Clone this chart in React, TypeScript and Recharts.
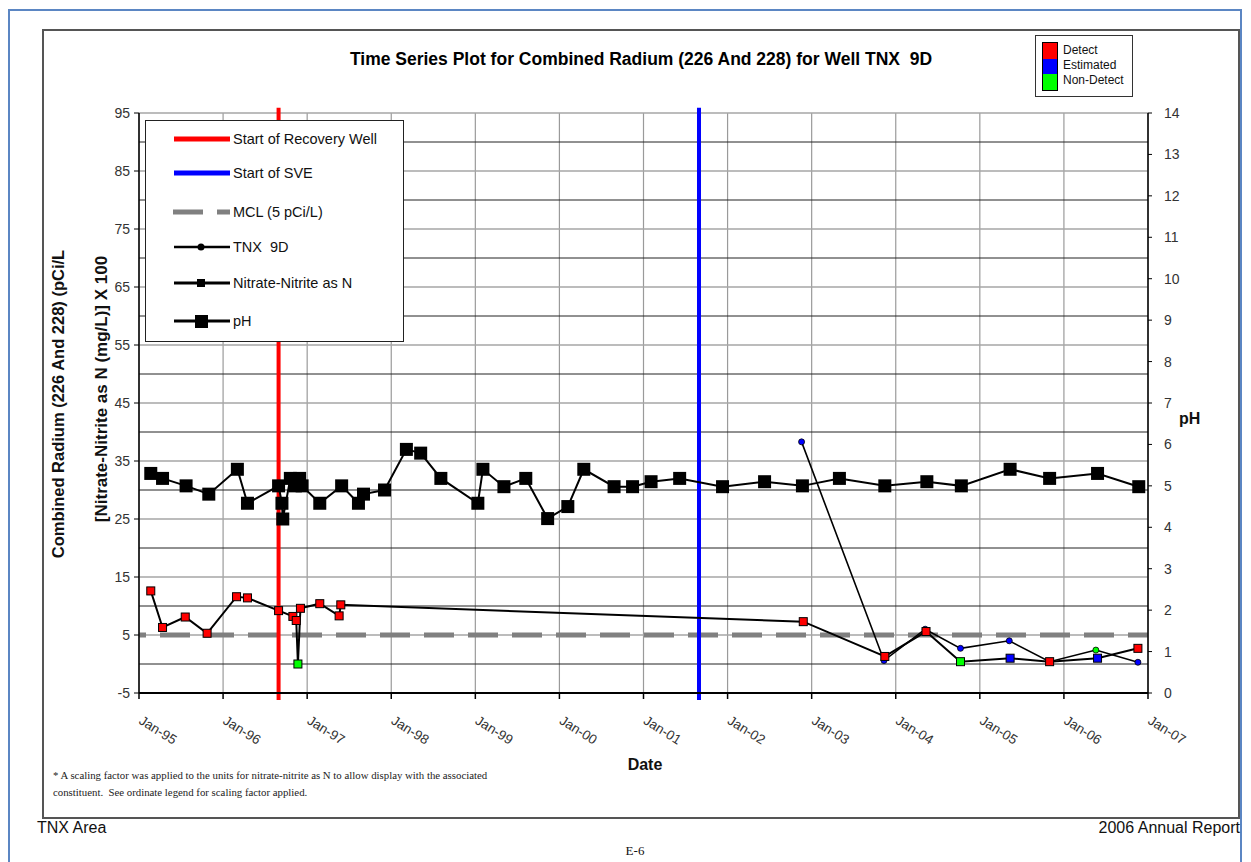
import React from 'react';
import { ComposedChart, Line, XAxis, YAxis, ReferenceLine } from 'recharts';

// ---- ticks ----
const yearTicks = [1995, 1996, 1997, 1998, 1999, 2000, 2001, 2002, 2003, 2004, 2005, 2006, 2007];
const yearLabels = ['Jan-95', 'Jan-96', 'Jan-97', 'Jan-98', 'Jan-99', 'Jan-00', 'Jan-01', 'Jan-02', 'Jan-03', 'Jan-04', 'Jan-05', 'Jan-06', 'Jan-07'];
const leftTicks = [-5, 5, 15, 25, 35, 45, 55, 65, 75, 85, 95];
const minorLines = [0, 10, 20, 30, 40, 50, 60, 70, 80, 90];
const rightTicks = [0, 1, 2, 3, 4, 5, 6, 7, 8, 9, 10, 11, 12, 13, 14];

// ---- events ----
const recoveryWellStart = 1996.66;
const sveStart = 2001.66;
const mcl = 5;

// ---- pH (right axis) ----
const phDates = [1995.14, 1995.28, 1995.56, 1995.83, 1996.17, 1996.29, 1996.66, 1996.70, 1996.71, 1996.80, 1996.86, 1996.91, 1996.94, 1997.15, 1997.41, 1997.61, 1997.67, 1997.92, 1998.18, 1998.35, 1998.59, 1999.03, 1999.09, 1999.34, 1999.60, 1999.86, 2000.10, 2000.29, 2000.65, 2000.87, 2001.09, 2001.43, 2001.94, 2002.44, 2002.89, 2003.33, 2003.87, 2004.37, 2004.78, 2005.36, 2005.83, 2006.40, 2006.89];
const phValues = [5.30, 5.18, 5.00, 4.80, 5.40, 4.58, 5.00, 4.58, 4.20, 5.18, 5.00, 5.18, 5.00, 4.58, 5.00, 4.58, 4.80, 4.90, 5.88, 5.79, 5.18, 4.58, 5.40, 4.98, 5.18, 4.21, 4.50, 5.40, 4.98, 4.98, 5.10, 5.18, 4.98, 5.10, 5.00, 5.18, 5.00, 5.10, 5.00, 5.40, 5.18, 5.30, 4.98];

// ---- Nitrate-Nitrite as N x100 (left axis) ----
const nitrateDates = [1995.14, 1995.28, 1995.55, 1995.81, 1996.16, 1996.29, 1996.66, 1996.83, 1996.87, 1996.89, 1996.92, 1997.15, 1997.38, 1997.40, 2002.90, 2003.87, 2004.36, 2004.77, 2005.36, 2005.83, 2006.40, 2006.88];
const nitrateValues = [12.6, 6.3, 8.1, 5.3, 11.6, 11.4, 9.2, 8.2, 7.5, 0.0, 9.6, 10.4, 8.3, 10.2, 7.3, 1.3, 5.6, 0.4, 1.0, 0.4, 1.0, 2.7];
const nitrateStatus = ['D', 'D', 'D', 'D', 'D', 'D', 'D', 'D', 'D', 'N', 'D', 'D', 'D', 'D', 'D', 'D', 'D', 'N', 'E', 'D', 'E', 'D'];

// ---- TNX 9D combined radium (left axis) ----
const radiumDates = [2002.88, 2003.86, 2004.35, 2004.77, 2005.35, 2005.83, 2006.38, 2006.88];
const radiumValues = [38.3, 0.6, 6.0, 2.7, 4.0, 0.4, 2.4, 0.3];
const radiumStatus = ['E', 'E', 'E', 'E', 'E', 'E', 'N', 'E'];

const phData = phDates.map((t, i) => ({ t, v: phValues[i] }));
const nitrateData = nitrateDates.map((t, i) => ({ t, v: nitrateValues[i], s: nitrateStatus[i] }));
const radiumData = radiumDates.map((t, i) => ({ t, v: radiumValues[i], s: radiumStatus[i] }));

const statusColor: Record<string, string> = { D: '#ff0000', E: '#0000ff', N: '#00ff00' };
const SANS = '"Liberation Sans", Arial, sans-serif';
const SERIF = '"Liberation Serif", "Times New Roman", serif';

const PhDot = (props: any) => {
  const { cx, cy, index } = props;
  if (cx == null || cy == null) return <g key={`p${index}`} />;
  return <rect key={`p${index}`} x={cx - 6.5} y={cy - 6.5} width={13} height={13} fill="#000" />;
};
const NitrateDot = (props: any) => {
  const { cx, cy, payload, index } = props;
  if (cx == null || cy == null) return <g key={`n${index}`} />;
  return <rect key={`n${index}`} x={cx - 4} y={cy - 4} width={8} height={8} fill={statusColor[payload.s]} stroke="#000" strokeWidth={1} />;
};
const RadiumDot = (props: any) => {
  const { cx, cy, payload, index } = props;
  if (cx == null || cy == null) return <g key={`r${index}`} />;
  return <circle key={`r${index}`} cx={cx} cy={cy} r={3} fill={statusColor[payload.s]} stroke="#000" strokeWidth={0.8} />;
};

const XTick = (props: any) => {
  const { x, y, payload } = props;
  const idx = yearTicks.indexOf(payload.value);
  const tx = x - 1;
  const ty = y + 22;
  return (
    <text x={tx} y={ty} transform={`rotate(32 ${tx} ${ty})`} fontSize={13.5} fill="#333" fontFamily={SANS} textAnchor="start">
      {idx >= 0 ? yearLabels[idx] : ''}
    </text>
  );
};

const abs = (s: React.CSSProperties): React.CSSProperties => ({ position: 'absolute', ...s });

export default function App() {
  return (
    <div style={abs({ left: 0, top: 0, width: 1251, height: 862, background: '#fff', overflow: 'hidden', fontFamily: SANS })}>
      {/* page frame */}
      <div style={abs({ left: 8, top: 9, width: 1234, height: 900, border: '2px solid #5b86c3', boxSizing: 'border-box' })} />
      <div style={abs({ left: 42, top: 29, width: 1198, height: 790, border: '2px solid #555', boxSizing: 'border-box' })} />

      <div style={abs({ left: 0, top: 0 })}>
        <ComposedChart width={1251} height={862} margin={{ top: 113, right: 0, bottom: 109, left: 0 }}>
          <XAxis
            dataKey="t"
            type="number"
            domain={[1995, 2007]}
            ticks={yearTicks}
            interval={0}
            allowDataOverflow
            height={60}
            tick={<XTick />}
            tickSize={6}
            tickMargin={2}
            axisLine={{ stroke: '#000', strokeWidth: 2 }}
            tickLine={{ stroke: '#000', strokeWidth: 1.5 }}
          />
          <YAxis
            yAxisId="left"
            orientation="left"
            type="number"
            domain={[-5, 95]}
            ticks={leftTicks}
            interval={0}
            allowDataOverflow
            width={139}
            tickSize={5}
            tickMargin={4}
            tick={{ fontSize: 14, fill: '#333', fontFamily: SANS }}
            axisLine={{ stroke: '#000', strokeWidth: 1.5 }}
            tickLine={{ stroke: '#000', strokeWidth: 1 }}
          />
          <YAxis
            yAxisId="right"
            orientation="right"
            type="number"
            domain={[0, 14]}
            ticks={rightTicks}
            interval={0}
            allowDataOverflow
            width={103}
            tickSize={4}
            tickMargin={12}
            tick={{ fontSize: 14, fill: '#333', fontFamily: SANS, textAnchor: 'start' }}
            axisLine={{ stroke: '#000', strokeWidth: 1.5 }}
            tickLine={{ stroke: '#000', strokeWidth: 1 }}
          />

          {yearTicks.map((yr) => (
            <ReferenceLine key={`vx${yr}`} yAxisId="left" x={yr} stroke="#9a9a9a" strokeWidth={1.2} />
          ))}
          {leftTicks.map((v) => (
            <ReferenceLine key={`gy${v}`} yAxisId="left" y={v} stroke="#a6a6a6" strokeWidth={1.6} />
          ))}
          {minorLines.map((v) => (
            <ReferenceLine key={`by${v}`} yAxisId="left" y={v} stroke="#222" strokeWidth={1} />
          ))}

          <ReferenceLine yAxisId="left" y={mcl} stroke="#808080" strokeWidth={5} strokeDasharray="30 14" strokeDashoffset={23} />
          <ReferenceLine
            yAxisId="left"
            segment={[{ x: recoveryWellStart, y: 95.9 }, { x: recoveryWellStart, y: -6.2 }]}
            ifOverflow="visible"
            stroke="#ff0000"
            strokeWidth={4}
          />
          <ReferenceLine
            yAxisId="left"
            segment={[{ x: sveStart, y: 95.9 }, { x: sveStart, y: -6.2 }]}
            ifOverflow="visible"
            stroke="#0000ff"
            strokeWidth={4}
          />

          <Line
            yAxisId="right"
            data={phData}
            dataKey="v"
            type="linear"
            stroke="#000"
            strokeWidth={2}
            dot={PhDot}
            activeDot={false}
            isAnimationActive={false}
            legendType="none"
          />
          <Line
            yAxisId="left"
            data={radiumData}
            dataKey="v"
            type="linear"
            stroke="#000"
            strokeWidth={1.6}
            dot={RadiumDot}
            activeDot={false}
            isAnimationActive={false}
          />
          <Line
            yAxisId="left"
            data={nitrateData}
            dataKey="v"
            type="linear"
            stroke="#000"
            strokeWidth={2}
            dot={NitrateDot}
            activeDot={false}
            isAnimationActive={false}
          />
        </ComposedChart>
      </div>

      {/* title */}
      <div style={abs({ left: 241, width: 800, top: 49, textAlign: 'center', fontWeight: 'bold', fontSize: 17.5, whiteSpace: 'pre', color: '#000' })}>
        {'Time Series Plot for Combined Radium (226 And 228) for Well TNX  9D'}
      </div>

      {/* detect legend */}
      <div style={abs({ left: 1035, top: 35, width: 98, height: 62, border: '1px solid #333', boxSizing: 'border-box', background: '#fff' })}>
        <div style={abs({ left: 6, top: 6, width: 16, height: 49, border: '1px solid #000', boxSizing: 'border-box' })}>
          <div style={{ height: 15.7, background: '#ff0000' }} />
          <div style={{ height: 15.7, background: '#0000ff' }} />
          <div style={{ height: 15.6, background: '#00ff00' }} />
        </div>
        {['Detect', 'Estimated', 'Non-Detect'].map((t, i) => (
          <div key={t} style={abs({ left: 27, top: 7 + i * 15, fontSize: 12, lineHeight: '14px', color: '#111' })}>{t}</div>
        ))}
      </div>

      {/* series legend */}
      <div style={abs({ left: 145, top: 120, width: 259, height: 222, border: '1.5px solid #222', boxSizing: 'border-box', background: '#fff' })}>
        <svg width={259} height={222} style={abs({ left: -1.5, top: -1.5 })}>
          <line x1={29} y1={19} x2={85} y2={19} stroke="#ff0000" strokeWidth={5} />
          <line x1={29} y1={53} x2={85} y2={53} stroke="#0000ff" strokeWidth={5} />
          <line x1={28} y1={92} x2={85} y2={92} stroke="#808080" strokeWidth={5} strokeDasharray="30 14" />
          <line x1={29} y1={127} x2={85} y2={127} stroke="#000" strokeWidth={2.5} />
          <circle cx={56} cy={127} r={3.5} fill="#000" />
          <line x1={29} y1={163} x2={85} y2={163} stroke="#000" strokeWidth={3} />
          <rect x={52} y={159} width={8} height={8} fill="#000" />
          <line x1={29} y1={201} x2={85} y2={201} stroke="#000" strokeWidth={3} />
          <rect x={50} y={195} width={13} height={13} fill="#000" />
          {['Start of Recovery Well', 'Start of SVE', 'MCL (5 pCi/L)', 'TNX  9D', 'Nitrate-Nitrite as N', 'pH'].map((t, i) => (
            <text key={t} x={88} y={[19, 53, 92, 127, 163, 201][i] + 5} fontSize={14.5} fill="#111" fontFamily={SANS} style={{ whiteSpace: 'pre' }}>{t}</text>
          ))}
        </svg>
      </div>

      {/* axis titles */}
      <div style={abs({ left: 58, top: 404, width: 0, height: 0 })}>
        <div style={{ position: 'absolute', transform: 'translate(-50%,-50%) rotate(-90deg)', whiteSpace: 'pre', fontWeight: 'bold', fontSize: 16.5, color: '#111' }}>
          Combined Radium (226 And 228) (pCi/L
        </div>
      </div>
      <div style={abs({ left: 102, top: 389, width: 0, height: 0 })}>
        <div style={{ position: 'absolute', transform: 'translate(-50%,-50%) rotate(-90deg)', whiteSpace: 'pre', fontWeight: 'bold', fontSize: 17, color: '#111' }}>
          [Nitrate-Nitrite as N (mg/L)] X 100
        </div>
      </div>
      <div style={abs({ left: 1179, top: 410, fontWeight: 'bold', fontSize: 16, color: '#111' })}>pH</div>
      <div style={abs({ left: 545, width: 200, top: 756, textAlign: 'center', fontWeight: 'bold', fontSize: 16, color: '#111' })}>Date</div>

      {/* footnote */}
      <div style={abs({ left: 53, top: 767, fontFamily: SERIF, fontSize: 10.8, lineHeight: '17px', color: '#222' })}>
        <div>* A scaling factor was applied to the units for nitrate-nitrite as N to allow display with the associated</div>
        <div>constituent.&nbsp; See ordinate legend for scaling factor applied.</div>
      </div>

      {/* page footer */}
      <div style={abs({ left: 37, top: 819, fontSize: 16, color: '#111' })}>TNX Area</div>
      <div style={abs({ right: 11, top: 819, fontSize: 16, color: '#111' })}>2006 Annual Report</div>
      <div style={abs({ left: 585, width: 100, top: 843, textAlign: 'center', fontFamily: SERIF, fontSize: 13, color: '#111' })}>E-6</div>
    </div>
  );
}
